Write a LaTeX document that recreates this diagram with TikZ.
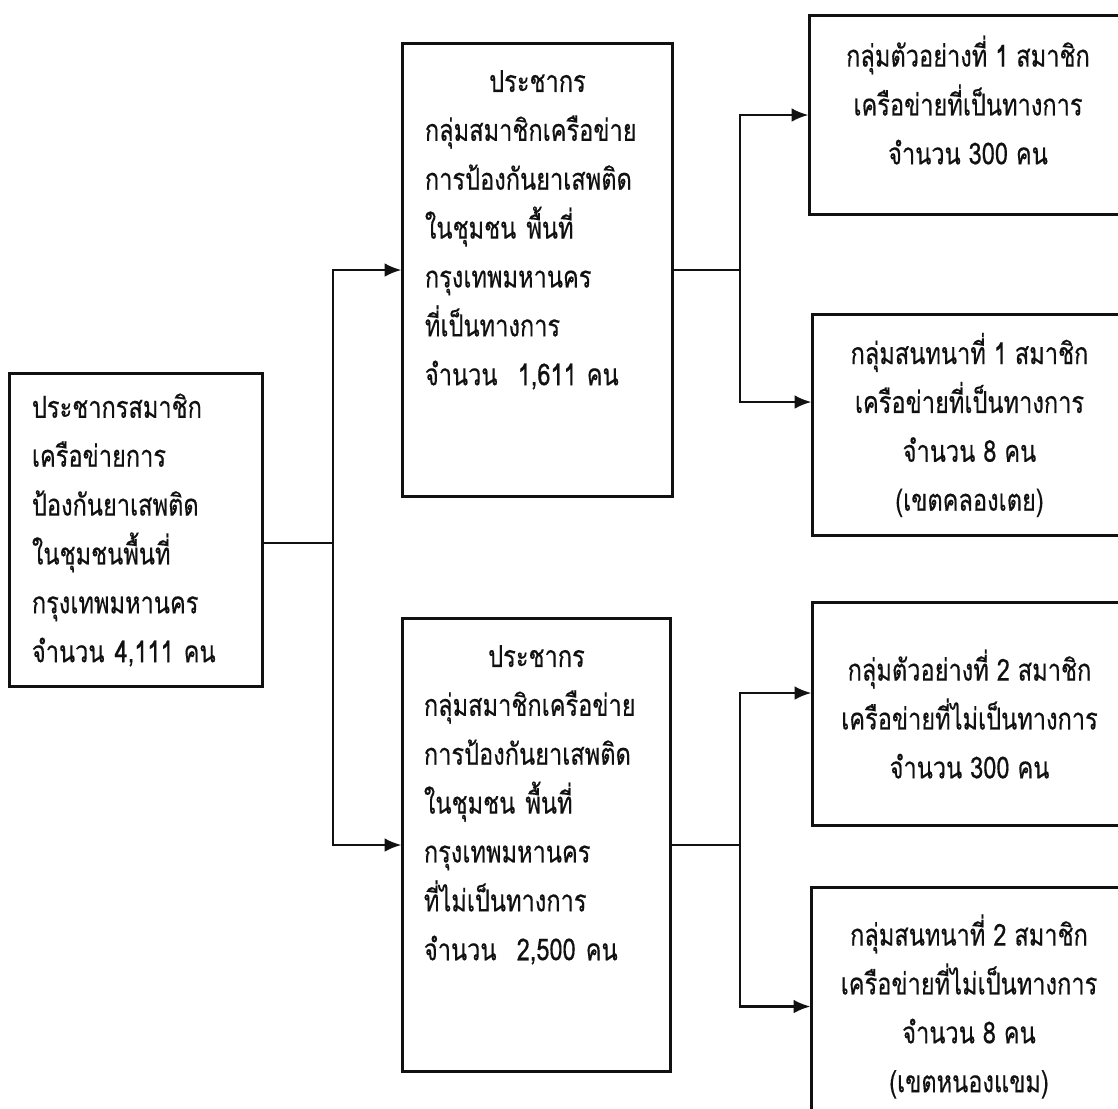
\documentclass[tikz,border=0pt]{standalone}
\usepackage{fontspec}
\newfontfamily\thaifont[Script=Thai,FakeStretch=0.78,FakeBold=0.4]{Loma}
\usepackage{tikz}
\usetikzlibrary{calc,positioning,arrows.meta}
\definecolor{ink}{HTML}{111111}
\tikzset{
  box/.style={draw=ink, line width=0.85pt, inner sep=0pt},
  txt/.style={text=ink, font=\thaifont\fontsize{8.6}{13.9}\selectfont, inner sep=0pt},
  link/.style={draw=ink, line width=0.65pt},
  arrow/.style={link, -{Latex[length=4.8pt,width=3.9pt]}},
}

\begin{document}
\begin{tikzpicture}[x=0.01cm, y=-0.01cm]
  \useasboundingbox (0,0) rectangle (1118,1108);
  % left: whole population
  \node[box, txt, align=left, text width=2.08cm, minimum width=2.52cm,
        minimum height=3.12cm] (pop) at (136,530)
    {ประชากรสมาชิก\\เครือข่ายการ\\ป้องกันยาเสพติด\\ในชุมชนพื้นที่\\กรุงเทพมหานคร\\จำนวน 4,111 คน};

  % middle: the two networks
  \node[box, minimum width=2.69cm, minimum height=4.52cm] (midA) at (537.5,270) {};
  \node[txt, align=left, text width=2.25cm, below=0.27cm of midA.north] (midAtext)
    {\makebox[\linewidth]{ประชากร}\\กลุ่มสมาชิกเครือข่าย\\การป้องกันยาเสพติด\\ในชุมชน พื้นที่\\กรุงเทพมหานคร\\ที่เป็นทางการ\\จำนวน~~1,611 คน};
  \node[box, minimum width=2.67cm, minimum height=4.52cm] (midB) at (536.5,845) {};
  \node[txt, align=left, text width=2.25cm, below=0.27cm of midB.north] (midBtext)
    {\makebox[\linewidth]{ประชากร}\\กลุ่มสมาชิกเครือข่าย\\การป้องกันยาเสพติด\\ในชุมชน พื้นที่\\กรุงเทพมหานคร\\ที่ไม่เป็นทางการ\\จำนวน~~2,500 คน};

  % right: samples and focus groups
  \node[box, minimum width=3.16cm, minimum height=1.98cm] (grpA1) at (968,115) {};
  \node[txt, align=center] (grpA1text) at ($(grpA1)+(0,-15)$)
    {กลุ่มตัวอย่างที่ 1 สมาชิก\\เครือข่ายที่เป็นทางการ\\จำนวน 300 คน};
  \node[box, txt, align=center, minimum width=3.13cm, minimum height=2.20cm] (grpA2) at (969.5,425)
    {กลุ่มสนทนาที่ 1 สมาชิก\\เครือข่ายที่เป็นทางการ\\จำนวน 8 คน\\(เขตคลองเตย)};
  \node[box, txt, align=center, minimum width=3.13cm, minimum height=2.22cm] (grpB1) at (969.5,714)
    {กลุ่มตัวอย่างที่ 2 สมาชิก\\เครือข่ายที่ไม่เป็นทางการ\\จำนวน 300 คน};
  \node[box, txt, align=center, minimum width=3.14cm, minimum height=2.37cm] (grpB2) at (969,1006.5)
    {กลุ่มสนทนาที่ 2 สมาชิก\\เครือข่ายที่ไม่เป็นทางการ\\จำนวน 8 คน\\(เขตหนองแขม)};

  \coordinate (splitL) at (333,543);
  \coordinate (splitA) at (740,270);
  \coordinate (splitB) at (740,845);

  \draw[link] (pop.east |- splitL) -- (splitL);
  \draw[arrow] (splitL) |- (midA.west);
  \draw[arrow] (splitL) |- (midB.west);
  \draw[link] (midA.east) -- (splitA);
  \draw[arrow] (splitA) |- (grpA1.west);
  \draw[arrow] (splitA) |- ($(grpA2.west)+(0,-23)$);
  \draw[link] (midB.east) -- (splitB);
  \draw[arrow] (splitB) |- ($(grpB1.west)+(0,-21)$);
  \draw[arrow] (splitB) |- (grpB2.west);
\end{tikzpicture}
\end{document}
